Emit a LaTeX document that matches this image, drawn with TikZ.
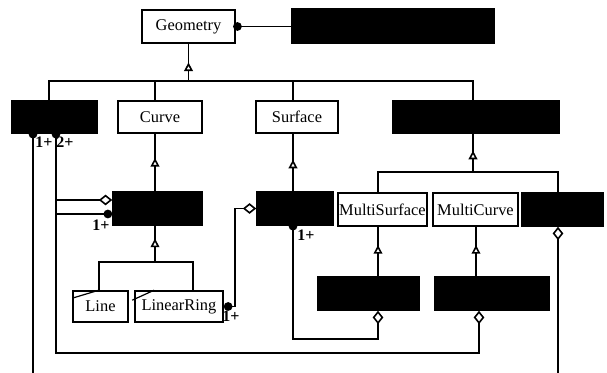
\documentclass[tikz,border=0pt]{standalone}
\usepackage{fontspec}
\setmainfont{Liberation Serif}
\usetikzlibrary{arrows.meta,decorations.markings}

\begin{document}
\begin{tikzpicture}[x=0.75pt, y=-0.75pt, line width=1.2pt,
    cls/.style={draw, inner sep=0pt, font=\fontsize{12.3}{14}\selectfont},
    ink/.style={cls, fill=black},
    gen/.style={postaction={decorate}, decoration={markings,
        mark=at position #1 with {\arrow{Triangle[length=6.5pt,width=6.5pt,fill=white]}}}},
    gen/.default=0.5,
    agg/.style={arrows={-{Diamond[length=10pt,width=8pt,fill=white]}}},
    dotagg/.style={arrows={{Circle[length=6.5pt]}-{Diamond[length=10pt,width=8pt,fill=white]}}},
    dotted end/.style={arrows={{Circle[length=6.5pt]}-}},
    mult/.style={font=\bfseries\fontsize{12}{13}\selectfont, inner sep=0pt}]
  \useasboundingbox (0,0) rectangle (607,373);

  % row 1
  \node[cls, minimum width=69.75pt, minimum height=24.75pt] (geom) at (188.5,26.5) {Geometry};
  \node[ink, minimum width=151.5pt, minimum height=25.5pt] (geomblk) at (393,26) {};
  % row 2
  \node[ink, minimum width=63.75pt, minimum height=24pt] (blkA) at (54.5,117) {};
  \node[cls, minimum width=63pt, minimum height=24pt] (curve) at (160,117) {Curve};
  \node[cls, minimum width=61.5pt, minimum height=24pt] (surface) at (297,117) {Surface};
  \node[ink, minimum width=124.5pt, minimum height=24pt] (blkB) at (476,117) {};
  % row 3
  \node[ink, minimum width=66.75pt, minimum height=24.75pt] (blkC) at (157.5,208.5) {};
  \node[ink, minimum width=57pt, minimum height=24.75pt] (blkD) at (295,208.5) {};
  \node[cls, minimum width=66.75pt, minimum height=24.75pt] (msurf) at (382.5,209.5) {MultiSurface};
  \node[cls, minimum width=63.75pt, minimum height=24.75pt] (mcurve) at (475.5,209.5) {MultiCurve};
  \node[ink, minimum width=60.75pt, minimum height=24.75pt] (blkE) at (562.5,209.5) {};
  % row 4
  \node[cls, minimum width=41.25pt, minimum height=23.25pt] (line) at (100.5,306.5) {Line};
  \node[cls, minimum width=66pt, minimum height=23.25pt] (lring) at (179,306.5) {LinearRing};
  \node[ink, minimum width=75.75pt, minimum height=24.75pt] (blkF) at (368.5,293.5) {};
  \node[ink, minimum width=85.5pt, minimum height=24.75pt] (blkG) at (492,293.5) {};

  % corner marks
  \draw[line width=0.9pt] ([yshift=-6pt]line.north west) -- ([xshift=20pt]line.north west);
  \draw[line width=0.9pt] ([xshift=-1.5pt,yshift=-7.5pt]lring.north west) -- ([xshift=15pt]lring.north west);

  % columns and rows of the wires
  \coordinate (colA1) at (33,0);
  \coordinate (colA2) at (56,0);
  \coordinate (colAb) at (49,0);
  \coordinate (colC) at (155,0);
  \coordinate (colS) at (293,0);
  \coordinate (colB) at (473,0);
  \coordinate (colMS) at (378,0);
  \coordinate (colMC) at (476,0);
  \coordinate (colE) at (558,0);
  \coordinate (colL) at (99,0);
  \coordinate (colLR) at (193,0);
  \coordinate (colR) at (235,0);
  \coordinate (colG) at (479,0);
  \coordinate (bar1) at (0,81);
  \coordinate (bar2) at (0,172);
  \coordinate (bar3) at (0,262);
  \coordinate (low1) at (0,339);
  \coordinate (low2) at (0,353);
  \coordinate (aggC1) at (0,200);
  \coordinate (aggC2) at (0,214);
  \coordinate (bottom) at (0,373);

  % Geometry
  \draw[dotted end, shorten <=-2pt] (geom.east) -- (geom.east -| geomblk.west);
  \draw[gen] (geom.south |- bar1) -- (geom.south);
  \draw (colAb |- blkA.north) |- (colB |- bar1) -- (colB |- blkB.north);
  \draw (colC |- curve.north) -- (colC |- bar1);
  \draw (colS |- surface.north) -- (colS |- bar1);

  % row 2 to row 3
  \draw[gen=0.58] (colC |- blkC.north) -- (colC |- curve.south);
  \draw[gen=0.55] (colS |- blkD.north) -- (colS |- surface.south);
  \draw[gen=0.56] (colB |- bar2) -- (colB |- blkB.south);
  \draw (colMS |- msurf.north) |- (colE |- bar2) -- (colE |- blkE.north);

  % row 3 to row 4
  \draw[gen=0.63] (colMS |- blkF.north) -- (colMS |- msurf.south);
  \draw[gen=0.63] (colMC |- blkG.north) -- (colMC |- mcurve.south);
  \draw[gen=0.65] (colC |- bar3) -- (colC |- blkC.south);
  \draw (colL |- line.north) |- (colLR |- bar3) -- (colLR |- lring.north);

  % aggregations
  \draw[dotagg] (lring.east) -| (colR |- blkD.west) -- (blkD.west);
  \draw[dotagg, shorten <=-3pt] (colS |- blkD.south) |- (colMS |- low1) -- (colMS |- blkF.south);
  \draw[dotagg, shorten <=-3pt] (colA2 |- blkA.south) |- (colG |- low2) -- (colG |- blkG.south);
  \draw[dotted end, shorten <=-3pt] (colA1 |- blkA.south) -- (colA1 |- bottom);
  \draw[agg] (colA2 |- aggC1) -- (blkC.west |- aggC1);
  \draw[arrows={-{Circle[length=6.5pt]}}] (colA2 |- aggC2) -- (blkC.west |- aggC2);
  \draw[agg] (colE |- bottom) -- (colE |- blkE.south);

  % multiplicities
  \node[mult] (mA1) at (44,142) {1+};
  \node[mult] (mA2) at (65,142) {2+};
  \node[mult] (mC) at (101,225) {1+};
  \node[mult] (mD) at (306,235) {1+};
  \node[mult] (mR) at (231,316) {1+};
\end{tikzpicture}
\end{document}
